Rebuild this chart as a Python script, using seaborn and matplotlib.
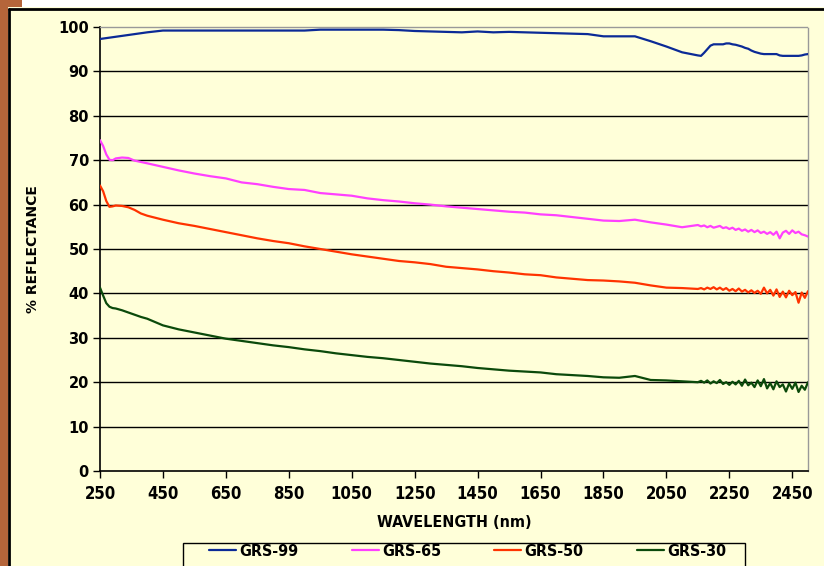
import matplotlib
matplotlib.use("Agg")
import matplotlib.pyplot as plt
import matplotlib.patches as mpatches
import seaborn as sns
import pandas as pd

wavelength = [250, 260, 270, 280, 290, 300, 320, 340, 360, 380, 400,
              450, 500, 550, 600, 650, 700, 750, 800, 850, 900, 950, 1000, 1050, 1100,
              1150, 1200, 1250, 1300, 1350, 1400, 1450, 1500, 1550, 1600, 1650, 1700,
              1750, 1800, 1850, 1900, 1950, 2000, 2050, 2100, 2150,
              2160, 2170, 2180, 2190, 2200, 2210, 2220, 2230, 2240, 2250, 2260, 2270,
              2280, 2290, 2300, 2310, 2320, 2330, 2340, 2350, 2360, 2370, 2380, 2390,
              2400, 2410, 2420, 2430, 2440, 2450, 2460, 2470, 2480, 2490, 2500]

grs99 = [97.3, 97.4, 97.5, 97.6, 97.7, 97.8, 98.0, 98.2, 98.4, 98.6, 98.8,
         99.2, 99.2, 99.2, 99.2, 99.2, 99.2, 99.2, 99.2, 99.2, 99.2, 99.4, 99.4, 99.4, 99.4,
         99.4, 99.3, 99.1, 99.0, 98.9, 98.8, 99.0, 98.8, 98.9, 98.8, 98.7, 98.6,
         98.5, 98.4, 97.9, 97.9, 97.9, 96.8, 95.6, 94.3, 93.6,
         93.5, 94.2, 95.0, 95.8, 96.1, 96.1, 96.1, 96.1, 96.3, 96.3, 96.1, 96.0,
         95.8, 95.6, 95.3, 95.1, 94.7, 94.4, 94.2, 94.0, 93.9, 93.9, 93.9, 93.9,
         93.9, 93.6, 93.5, 93.5, 93.5, 93.5, 93.5, 93.5, 93.6, 93.8, 93.9]

grs65 = [74.5, 73.2, 71.3, 70.1, 70.0, 70.4, 70.6, 70.5, 69.9, 69.6, 69.3,
         68.5, 67.7, 67.0, 66.4, 65.9, 65.0, 64.6, 64.0, 63.5, 63.3, 62.6, 62.3, 62.0, 61.4,
         61.0, 60.7, 60.3, 60.0, 59.6, 59.3, 59.0, 58.7, 58.4, 58.2, 57.8, 57.6,
         57.2, 56.8, 56.4, 56.3, 56.6, 56.0, 55.5, 54.9, 55.4,
         55.1, 55.3, 54.9, 55.2, 54.8, 55.0, 55.2, 54.7, 54.9, 54.5, 54.8, 54.3,
         54.6, 54.1, 54.4, 53.9, 54.3, 53.8, 54.2, 53.6, 53.9, 53.4, 53.8, 53.2,
         53.9, 52.4, 53.7, 54.1, 53.4, 54.2, 53.6, 53.9, 53.3, 53.1, 52.8]

grs50 = [64.3, 63.0, 60.8, 59.5, 59.6, 59.8, 59.7, 59.4, 58.8, 58.0, 57.5,
         56.6, 55.8, 55.2, 54.5, 53.8, 53.1, 52.4, 51.8, 51.3, 50.6, 50.0, 49.4, 48.8, 48.3,
         47.8, 47.3, 47.0, 46.6, 46.0, 45.7, 45.4, 45.0, 44.7, 44.3, 44.1, 43.6,
         43.3, 43.0, 42.9, 42.7, 42.4, 41.8, 41.3, 41.2, 41.0,
         41.2, 40.9, 41.3, 41.0, 41.4, 40.9, 41.3, 40.8, 41.2, 40.6, 41.0, 40.5,
         41.1, 40.4, 40.8, 40.2, 40.7, 40.1, 40.6, 39.9, 41.3, 40.0, 40.8, 39.5,
         40.9, 39.2, 40.4, 39.1, 40.6, 39.6, 40.3, 37.9, 40.2, 39.0, 40.5]

grs30 = [41.3, 39.5, 37.8, 37.0, 36.7, 36.6, 36.2, 35.7, 35.2, 34.7, 34.3,
         32.8, 31.9, 31.2, 30.5, 29.8, 29.3, 28.8, 28.3, 27.9, 27.4, 27.0, 26.5, 26.1, 25.7,
         25.4, 25.0, 24.6, 24.2, 23.9, 23.6, 23.2, 22.9, 22.6, 22.4, 22.2, 21.8,
         21.6, 21.4, 21.1, 21.0, 21.4, 20.5, 20.4, 20.2, 20.0,
         20.3, 19.9, 20.4, 19.7, 20.2, 19.8, 20.5, 19.6, 20.0, 19.4, 20.1, 19.5,
         20.3, 19.2, 20.6, 19.3, 19.9, 18.9, 20.4, 19.1, 20.7, 18.6, 19.8, 18.4,
         20.2, 18.9, 19.5, 17.9, 19.7, 18.5, 19.9, 17.8, 19.2, 18.3, 20.0]

series_names = ["GRS-99", "GRS-65", "GRS-50", "GRS-30"]
x_ticks = [250, 450, 650, 850, 1050, 1250, 1450, 1650, 1850, 2050, 2250, 2450]
y_ticks = [0, 10, 20, 30, 40, 50, 60, 70, 80, 90, 100]

df = pd.DataFrame({"wavelength": wavelength, "GRS-99": grs99, "GRS-65": grs65,
                   "GRS-50": grs50, "GRS-30": grs30})
long = df.melt(id_vars="wavelength", var_name="sample", value_name="reflectance")

palette = {"GRS-99": "#0b2a96", "GRS-65": "#ff40ff", "GRS-50": "#ff3300", "GRS-30": "#0b4a0b"}

sns.set_style("white")
plt.rcParams["font.family"] = ["DejaVu Sans"]
plt.rcParams["text.color"] = "black"
plt.rcParams["axes.labelcolor"] = "black"
plt.rcParams["xtick.color"] = "black"
plt.rcParams["ytick.color"] = "black"
BG = "#ffffd9"

fig = plt.figure(figsize=(8.24, 5.66), dpi=100, facecolor=BG)
ax = fig.add_axes([100/824, 1-471/566, 708/824, 444/566])
ax.set_facecolor(BG)

for yv in y_ticks[1:-1]:
    ax.axhline(yv, color="black", lw=1.0, zorder=1)

sns.lineplot(data=long, x="wavelength", y="reflectance", hue="sample",
             hue_order=series_names, palette=palette, linewidth=1.6,
             legend=False, ax=ax, zorder=3)

ax.set_xlim(250, 2500)
ax.set_ylim(0, 100)
ax.set_xticks(x_ticks)
ax.set_yticks(y_ticks)
cond = dict(fontfamily="DejaVu Sans", fontstretch="condensed", fontweight="bold")
ax.set_xticklabels([str(v) for v in x_ticks], fontsize=12, **cond)
ax.set_yticklabels([str(v) for v in y_ticks], fontweight="bold", fontsize=10.5)
ax.tick_params(axis="both", direction="out", length=5, width=1, color="black", pad=3,
               bottom=True, left=True)
ax.tick_params(axis="x", pad=5)

for s in ["left", "bottom"]:
    ax.spines[s].set_color("black")
    ax.spines[s].set_linewidth(1.2)
for s in ["top", "right"]:
    ax.spines[s].set_color("#999999")
    ax.spines[s].set_linestyle((0, (1, 1)))
    ax.spines[s].set_linewidth(1.0)

ax.set_xlabel("WAVELENGTH (nm)", fontsize=11.5, labelpad=9, **cond)
ax.set_ylabel("% REFLECTANCE", fontweight="bold", fontsize=10, labelpad=13)

# legend
handles = ax.get_lines()[-4:]
leg = fig.legend(handles, series_names, loc="upper left",
                 bbox_to_anchor=(209/824, 1-544/566), ncol=4, frameon=False,
                 prop={"family": "DejaVu Sans", "stretch": "condensed", "weight": "bold", "size": 11.5},
                 handlelength=1.7, handletextpad=0.2, columnspacing=3.32, borderpad=0,
                 borderaxespad=0)
fig.patches.append(mpatches.Rectangle((183/824, -0.05), (745-183)/824, 0.05 + (566-543)/566,
                                      transform=fig.transFigure, fill=False,
                                      edgecolor="black", lw=1.0))

# outer frame decorations
fig.patches.append(mpatches.Rectangle((0, 0), 8/824, 1, transform=fig.transFigure,
                                      facecolor="#b5653a", edgecolor="none"))
fig.patches.append(mpatches.Rectangle((8/824, 1-7/566), 1, 7/566, transform=fig.transFigure,
                                      facecolor="white", edgecolor="none"))
fig.patches.append(mpatches.Rectangle((8/824, 1-7/566), 14/824, 7/566, transform=fig.transFigure,
                                      facecolor="#b5653a", edgecolor="none"))
fig.lines.append(plt.Line2D([8.5/824, 1], [1-8.5/566, 1-8.5/566], transform=fig.transFigure,
                            color="black", lw=2))
fig.lines.append(plt.Line2D([8.5/824, 8.5/824], [0, 1-8.5/566], transform=fig.transFigure,
                            color="black", lw=2))

fig.savefig("out.png", dpi=100, facecolor=BG)
